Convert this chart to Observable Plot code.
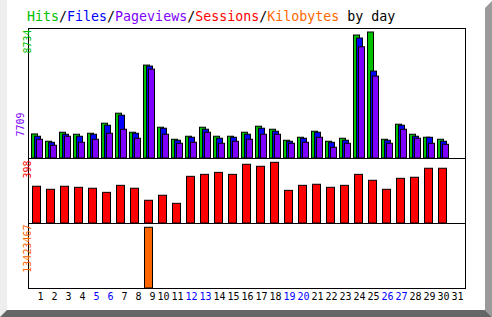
<!DOCTYPE html>
<html><head><meta charset="utf-8">
<script src="https://cdn.jsdelivr.net/npm/d3@7"></script>
<script src="https://cdn.jsdelivr.net/npm/@observablehq/plot@0.6"></script>
<style>
html,body{margin:0;padding:0;background:#fff;}
#chart{position:relative;width:492px;height:317px;overflow:hidden;background:#fff;font-family:"DejaVu Sans Mono",monospace;}
#deco{position:absolute;left:0;top:0;}
#title{position:absolute;left:27px;top:9px;font-size:13.3px;line-height:16px;white-space:pre;color:#000;}
.panel{position:absolute;left:0;}
</style></head><body>
<div id="chart">
<svg id="deco" width="492" height="317">
<polygon points="0,0 7,0 7,310 0,317" fill="#eeeeee"/>
<polygon points="485,8 492,1 492,317 485,310" fill="#9a9a9a"/>
<polygon points="7,310 485,310 492,317 0,317" fill="#666666"/>
</svg>
<div id="title"></div>
</div>
<script>
const days = [1,2,3,4,5,6,7,8,9,10,11,12,13,14,15,16,17,18,19,20,21,22,23,24,25,26,27,28,29,30,31];
const weekendDays = [5,6,12,13,19,20,26,27];
const hits = [1668,1160,1786,1647,1716,2411,3106,1786,6441,2133,1299,1508,2133,1508,1508,1786,2203,1994,1230,1438,1855,1160,1369,8525,8734,1299,2342,1647,1438,1299,0];
const files = [1508,1091,1647,1508,1647,2272,2967,1716,6371,2064,1230,1438,1994,1369,1438,1647,2064,1855,1160,1369,1786,1091,1230,8317,6024,1230,2272,1508,1438,1160,0];
const pages = [1299,882,1508,1091,1299,1716,1994,1369,6163,1647,1021,1091,1786,1021,1160,1299,1647,1647,1021,1091,1438,743,1021,7709,5677,1021,1994,1369,1021,952,0];
const sessions = [241,221,241,234,228,201,247,228,149,182,129,306,319,332,319,385,372,398,214,247,254,234,247,319,280,221,293,300,359,359,0];
const kbytes = [0,0,0,0,0,0,0,0,13423467,0,0,0,0,0,0,0,0,0,0,0,0,0,0,0,0,0,0,0,0,0,0];
const titleParts = [["Hits","#00c000"],["/","#000"],["Files","#0000ff"],["/","#000"],["Pageviews","#8000ff"],["/","#000"],["Sessions","#ff0000"],["/","#000"],["Kilobytes","#ff6600"],[" by day","#000"]];

const GREEN="#00c000", BLUE="#0000ff", PURPLE="#8000ff", RED="#ff0000", ORANGE="#ff6600";
const rows = days.map((day,i)=>({day, hits:hits[i], files:files[i], pages:pages[i], sessions:sessions[i], kbytes:kbytes[i]}));

const title = document.getElementById("title");
for (const [t,c] of titleParts){const s=document.createElement("span");s.textContent=t;s.style.color=c;title.appendChild(s);}

const maxHits = d3.max(hits), maxPages = d3.max(pages), maxSess = d3.max(sessions), maxKb = d3.max(kbytes);
const common = {width:492, marginLeft:28, marginRight:27, x:{domain:[11/14,32], axis:null}, style:{background:"none", overflow:"visible"}};
const font = {fontFamily:"DejaVu Sans Mono", fontSize:10};
const bar = (key, fill, l, r) => Plot.rect(rows.filter(d=>d[key]>0), {x1:"day", x2:d=>d.day+1, y1:0, y2:key, fill, stroke:"black", strokeWidth:1, insetLeft:l, insetRight:r});
const sideLabel = (v, color, anchor, dy) => Plot.text([String(v)], {text:d=>d, frameAnchor:anchor, rotate:-90, textAnchor:"end", dx:-5, dy, fill:color, ...font});

const p1 = Plot.plot({...common, height:159, marginTop:28, marginBottom:1,
  y:{domain:[0, maxHits*130/126], axis:null},
  marks:[
    bar("hits", GREEN, 0.5, 7.5),
    bar("files", BLUE, 3.5, 4.5),
    bar("pages", PURPLE, 5.5, 2.5),
    Plot.frame({stroke:"black"}),
    sideLabel(maxHits, GREEN, "top-left", 1),
    sideLabel(maxPages, PURPLE, "bottom-left", -46)
  ]});
const p2 = Plot.plot({...common, height:66, marginTop:0, marginBottom:1,
  y:{domain:[0, maxSess*65/60.7], axis:null},
  marks:[
    bar("sessions", RED, 1.5, 4.5),
    Plot.frame({stroke:"black"}),
    sideLabel(maxSess, RED, "top-left", 2)
  ]});
const p3 = Plot.plot({...common, height:94, marginTop:0, marginBottom:29,
  y:{domain:[0, maxKb*65/60.7], axis:null},
  marks:[
    bar("kbytes", ORANGE, 1.5, 4.5),
    Plot.frame({stroke:"black"}),
    sideLabel(maxKb, ORANGE, "top-left", 1),
    Plot.text(rows, {x:"day", text:d=>String(d.day), frameAnchor:"bottom", dx:12, dy:11.5, textAnchor:"end", fill:d=>weekendDays.includes(d.day)?"#0000ff":"#000000", ...font})
  ]});
const chart = document.getElementById("chart");
[[p1,0],[p2,158],[p3,223]].forEach(([p,top])=>{p.classList.add("panel");p.style.top=top+"px";chart.appendChild(p);});
</script>
</body></html>
